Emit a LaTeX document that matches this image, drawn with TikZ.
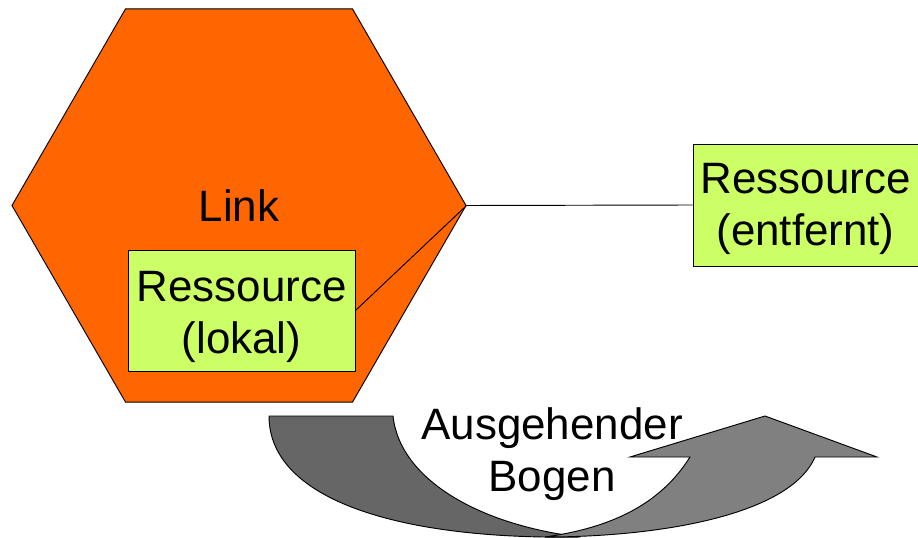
\documentclass[tikz,border=0pt]{standalone}
\usepackage{fontspec}
\setmainfont{Liberation Sans}
\usetikzlibrary{shapes.geometric}
\definecolor{linkorange}{HTML}{FF6600}
\definecolor{resgreen}{HTML}{CCFF66}
\definecolor{banddark}{HTML}{666666}
\definecolor{bandlight}{HTML}{808080}
\tikzset{
    res/.style={draw, fill=resgreen, inner sep=0pt},
    band/.style={draw, line width=0.8pt}
}
\begin{document}
\begin{tikzpicture}[x=0.03cm, y=-0.03cm, line width=0.8pt,
        every node/.style={font=\fontsize{37.5}{44.5}\selectfont}]
        \useasboundingbox (0,0) rectangle (918,538);
        \node (link) [draw, fill=linkorange, regular polygon, regular polygon sides=6, minimum size=13.62cm, inner sep=0pt] at (239,205.5) {Link};
        \node (lokal) [res, minimum width=6.81cm, minimum height=3.63cm] at (241.5,310.5) {};
        \node (lokaltext) [align=center] at (241.5,317) {Ressource\\(lokal)};
        \node (entfernt) [res, minimum width=6.75cm, minimum height=3.66cm] at (805.5,205) {};
        \node (entfernttext) [align=center] at (805.5,209) {Ressource\\(entfernt)};

        \draw (lokal.east) -- (link.east);
        \draw (link.east) -- (entfernt.west);

        % curved arrow below the hexagon
        \draw[band, fill=banddark] (269,416) -- (393,416) .. controls (400,480) and (480,525) .. (580,537) .. controls (400,540) and (269,500) .. (269,416) -- cycle;
        \draw[band, fill=bandlight] (545,537) .. controls (660,537) and (790,515) .. (815,457) -- (877,457) -- (765,416) -- (630,457) -- (690,457) .. controls (660,505) and (610,528) .. (545,537) -- cycle;
        \node (bogen) [align=center] at (552,454) {Ausgehender\\Bogen};
    \end{tikzpicture}
\end{document}
